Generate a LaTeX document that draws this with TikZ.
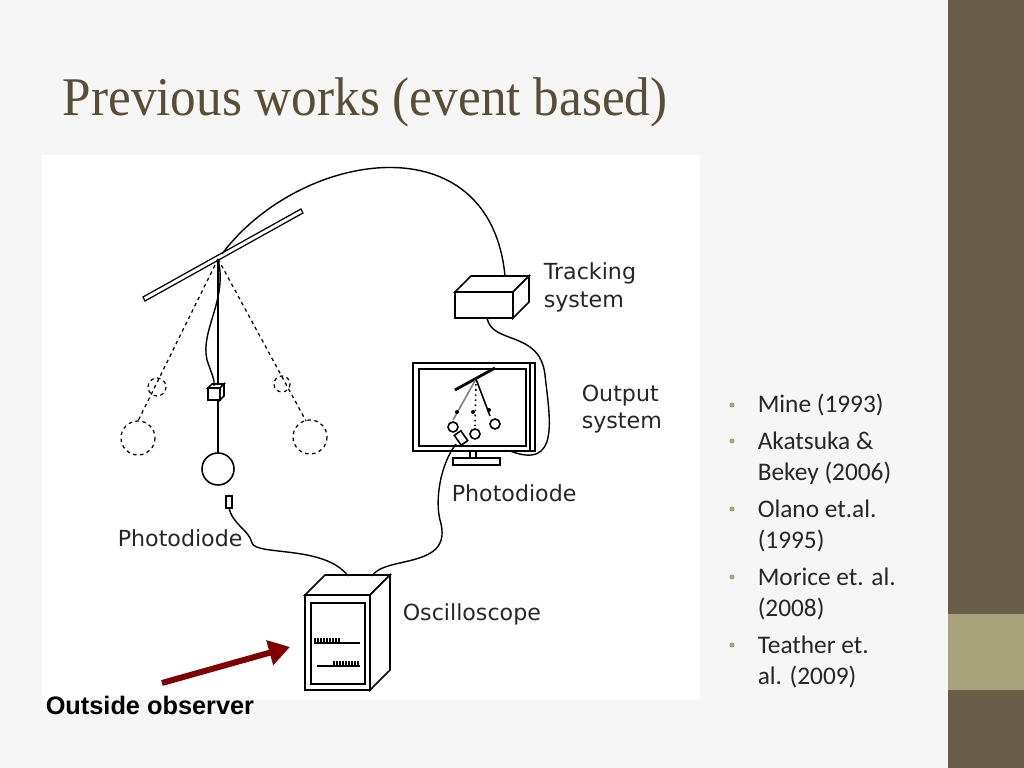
\documentclass[tikz,border=0pt]{standalone}
\usepackage{fontspec}
\setmainfont{Carlito}
\newfontfamily\labelfont{DejaVu Sans}
\newfontfamily\titlefont[FakeStretch=0.94]{Liberation Serif}
\newfontfamily\arialfont{Liberation Sans}
\usetikzlibrary{arrows.meta}
\begin{document}
\begin{tikzpicture}[x=0.01cm, y=-0.01cm, line width=0.45pt]
	\definecolor{barbrown}{RGB}{103, 93, 72};
\definecolor{barlight}{RGB}{168, 163, 122};
\definecolor{titlecol}{RGB}{88, 78, 55};
\definecolor{bulletcol}{RGB}{165, 160, 125};
\definecolor{darkred}{RGB}{128, 0, 0};
\tikzset{
	lbl/.style={font=\labelfont\fontsize{6.3}{7.8}\selectfont, anchor=north west, inner sep=0pt, align=left, text=black!85},
	item/.style={font=\fontsize{7.2}{8.6}\selectfont, anchor=west, inner sep=0pt, text=black!85},
	cable/.style={line width=0.4pt},
	ghost/.style={dashed, dash pattern=on 1pt off 1pt, line width=0.35pt}
}

% \drawbullet#y#text
\def\drawbullet#1#2{
	\fill[bulletcol] (732, #1) circle (2.5);
	\node[item] at (757, #1) {#2};
}

% \drawbox#x#y#w#h#depth
\def\drawbox#1#2#3#4#5{
	\draw[fill=white] (#1, #2) rectangle (#1 + #3, #2 + #4);
	\draw[fill=white] (#1, #2) -- (#1 + #5, #2 - #5) -- (#1 + #3 + #5, #2 - #5) -- (#1 + #3, #2) -- cycle;
	\draw[fill=white] (#1 + #3, #2) -- (#1 + #3 + #5, #2 - #5) -- (#1 + #3 + #5, #2 + #4 - #5) -- (#1 + #3, #2 + #4) -- cycle;
}

	% background
	\fill[gray!7] (0, 0) rectangle (1024, 768);
	\fill[white] (42, 155) rectangle (700, 700);
	\fill[barbrown] (948, 0) rectangle (1024, 768);
	\fill[barlight] (948, 614) rectangle (1024, 690);
	\node[font=\titlefont\fontsize{15.5}{18}\selectfont, text=titlecol, anchor=base west, inner sep=0pt] (title) at (62, 116) {Previous works (event based)};

	% pendulum
	\draw[fill=white, line width=0.35pt] (143, 297) -- (301, 209) -- (303, 213) -- (145, 301) -- cycle;
	\coordinate (pivot) at (218, 259);
	\draw (pivot) -- (218, 452);
	\draw[fill=white] (218, 469) circle (16);
	\drawbox{208}{388}{12}{12}{4}
	\draw[cable] (pivot) .. controls (228, 300) and (200, 330) .. (207, 360) .. controls (212, 375) and (215, 380) .. (214, 386);
	\draw[ghost] (pivot) -- (138, 421);
	\draw[ghost] (138, 438) circle (17);
	\draw[ghost] (157, 387) circle (9);
	\draw[ghost] (pivot) -- (306, 421);
	\draw[ghost] (310, 437) circle (17);
	\draw[ghost] (282, 384) circle (8);

	% tracking system
	\drawbox{455}{292}{58}{26}{16}
	\coordinate (trackin) at (505, 276);
	\coordinate (trackout) at (487, 318);
	\draw[cable] (222, 254) .. controls (300, 150) and (490, 120) .. (trackin);
	\node[lbl] (tracklbl) at (543, 262) {Tracking\\system};

	% output system
	\draw[fill=white] (413, 363) rectangle (535, 451);
	\draw (419, 369) rectangle (526, 446);
	\draw (530, 363) -- (530, 451);
	\draw[fill=white] (453, 458) rectangle (500, 465);
	\draw (470, 451) -- (470, 458); \draw (476, 451) -- (476, 458);
	\draw[line width=0.8pt] (455, 390) -- (495, 368);
	\draw[gray] (476, 379) -- (453, 420);
	\draw[densely dotted] (476, 379) -- (475, 426);
	\draw (476, 379) -- (490, 416);
	\foreach \px/\py in {453/427, 475/434, 495/424}{
		\draw[fill=white] (\px, \py) circle (5);
	}
	\foreach \px/\py in {457/412, 473/412, 489/410}{
		\fill (\px, \py) circle (2);
	}
	\coordinate (monout) at (510, 451);
	\draw[cable] (trackout) .. controls (492, 345) and (540, 330) .. (545, 375) .. controls (550, 420) and (560, 470) .. (monout);
	\node[lbl] (outlbl) at (581, 384) {Output\\system};

	% photodiodes
	\draw[fill=white, rotate around={-55:(461, 438)}] (455, 434) rectangle (467, 442);
	\coordinate (pdright) at (456, 444);
	\draw[fill=white] (226, 496) rectangle (232, 508);
	\coordinate (pdleft) at (229, 508);
	\node[lbl] (pdrlbl) at (451, 484) {Photodiode};
	\node[lbl] (pdllbl) at (117, 529) {Photodiode};

	% oscilloscope
	\drawbox{305}{595}{65}{95}{20}
	\draw (311, 603) rectangle (365, 684);
	\draw (314, 643) -- (360, 643);
	\draw (317, 666) -- (360, 666);
	\foreach \k in {0, ..., 8}{
		\draw[line width=0.3pt] (315 + \k * 3, 643) -- (315 + \k * 3, 638);
		\draw[line width=0.3pt] (334 + \k * 3, 666) -- (334 + \k * 3, 661);
	}
	\coordinate (oscin1) at (348, 576);
	\coordinate (oscin2) at (372, 576);
	\draw[cable] (pdleft) .. controls (233, 525) and (249, 530) .. (252, 543) .. controls (256, 556) and (325, 545) .. (oscin1);
	\draw[cable] (pdright) .. controls (440, 465) and (435, 500) .. (440, 520) .. controls (455, 570) and (385, 555) .. (oscin2);
	\node[lbl] (osclbl) at (402, 603) {Oscilloscope};

	% outside observer
	\coordinate (obsfrom) at (162, 683);
	\coordinate (obsto) at (290, 647);
	\draw[darkred, line width=1.7pt, -{Triangle[length=6pt, width=7pt]}] (obsfrom) -- (obsto);
	\node[font=\arialfont\bfseries\fontsize{7.2}{8.6}\selectfont, anchor=west, inner sep=0pt] (obslbl) at (45, 705) {Outside observer};

	% references
	\drawbullet{405}{Mine (1993)}
	\drawbullet{441}{Akatsuka \&}
	\node[item] at (757, 473) {Bekey (2006)};
	\drawbullet{509}{Olano et.al.}
	\node[item] at (757, 541) {(1995)};
	\drawbullet{577}{Morice et. al.}
	\node[item] at (757, 609) {(2008)};
	\drawbullet{645}{Teather et.}
	\node[item] at (757, 677) {al. (2009)};
\end{tikzpicture}
\end{document}
